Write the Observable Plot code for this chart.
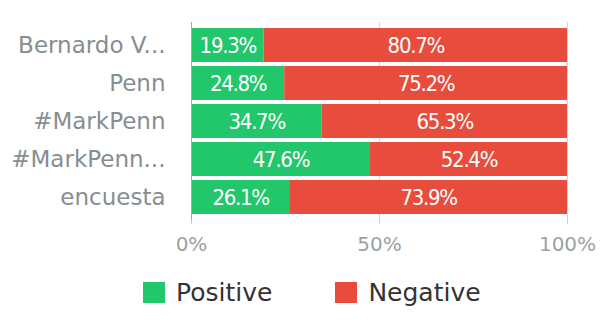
<!DOCTYPE html>
<html><head><meta charset="utf-8">
<script src="https://cdn.jsdelivr.net/npm/d3@7"></script>
<script src="https://cdn.jsdelivr.net/npm/@observablehq/plot@0.6"></script>
<style>
body{margin:0;background:#fff;font-family:"DejaVu Sans",sans-serif;}
#legend{display:flex;gap:63px;margin-top:16px;padding-left:143px;font-size:25px;color:#333;line-height:29px;}
#legend span.sw{display:inline-block;width:22px;height:21px;vertical-align:-2px;margin-right:11px;}
.barlabel text{letter-spacing:-1.3px;}
</style></head>
<body>
<div id="chart"></div>
<script>
const categories = ["Bernardo V...", "Penn", "#MarkPenn", "#MarkPenn...", "encuesta"];
const positive = [19.3, 24.8, 34.7, 47.6, 26.1];
const negative = [80.7, 75.2, 65.3, 52.4, 73.9];
const seriesNames = ["Positive", "Negative"];
const seriesColors = ["#22c76c", "#e74c3c"];
const xTicks = [0, 50, 100];

const data = [];
categories.forEach((c, i) => {
  data.push({cat: c, series: "Positive", value: positive[i]});
  data.push({cat: c, series: "Negative", value: negative[i]});
});

const chart = Plot.plot({
  width: 610,
  height: 262,
  marginLeft: 191,
  marginRight: 43,
  marginTop: 22,
  marginBottom: 42,
  style: {fontFamily: "'DejaVu Sans', sans-serif", background: "#fff"},
  x: {domain: [0, 100], label: null},
  y: {domain: categories, label: null, padding: 0.1},
  color: {domain: seriesNames, range: seriesColors},
  marks: [
    Plot.gridX(xTicks, {stroke: "#d5d5d5", strokeOpacity: 1}),
    Plot.barX(data, Plot.stackX({x: "value", y: "cat", fill: "series", order: seriesNames})),
    Plot.text(data, Plot.stackX({x: "value", y: "cat", z: "series", order: seriesNames,
      text: d => d.value.toFixed(1) + "%", fill: "white", fontSize: 22, className: "barlabel",
      fontFamily: "'DejaVu Sans Condensed', 'DejaVu Sans', sans-serif"})),
    Plot.ruleX([0], {stroke: "#aaa"}),
    Plot.axisY({tickSize: 0, tickPadding: 26, fontSize: 23, color: "#868e90"}),
    Plot.axisX(xTicks, {tickSize: 4, tickPadding: 12, fontSize: 20, color: "#9aa2a4", stroke: "#ccc",
      tickFormat: d => d + "%"})
  ]
});
document.getElementById("chart").appendChild(chart);

const legend = document.createElement("div");
legend.id = "legend";
seriesNames.forEach((s, i) => {
  const item = document.createElement("div");
  item.innerHTML = `<span class="sw" style="background:${seriesColors[i]}"></span>${s}`;
  legend.appendChild(item);
});
document.body.appendChild(legend);
</script>
</body></html>
